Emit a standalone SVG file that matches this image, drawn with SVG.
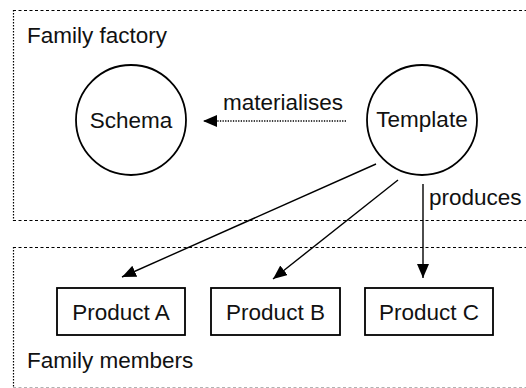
<svg xmlns="http://www.w3.org/2000/svg" width="526" height="388" viewBox="0 0 526 388">
  <style>
    text { font-family: "Liberation Sans", Arial, sans-serif; font-size: 22.5px; fill: #111; }
    .mid { text-anchor: middle; }
    .hdash { stroke: #000; stroke-width: 1.2; stroke-dasharray: 3 2.5; fill: none; }
    .vdash { stroke: #000; stroke-width: 1.2; stroke-dasharray: 1.5 1.5; fill: none; }
    .node { fill: #fff; stroke: #000; stroke-width: 1.8; }
    .edge { stroke: #000; stroke-width: 1.4; fill: none; }
    .dotted { stroke-dasharray: 1.3 1.3; }
  </style>
  <defs>
    <marker id="arrow" markerUnits="userSpaceOnUse" markerWidth="15" markerHeight="13" refX="14" refY="6" orient="auto">
      <path d="M0,0 L14,6 L0,12 z" fill="#000"/>
    </marker>
  </defs>

  <rect width="526" height="388" fill="#fff"/>

  <!-- Family factory container -->
  <g id="family-factory">
    <line class="hdash" x1="13" y1="10.5" x2="526" y2="10.5"/>
    <line class="hdash" x1="13" y1="220.5" x2="526" y2="220.5"/>
    <line class="vdash" x1="13.5" y1="10" x2="13.5" y2="221"/>
    <text x="27" y="43">Family factory</text>
  </g>

  <!-- Family members container -->
  <g id="family-members">
    <line class="hdash" x1="13" y1="247.5" x2="526" y2="247.5"/>
    <line class="hdash" x1="13" y1="387.5" x2="526" y2="387.5" stroke-opacity="0.3"/>
    <line class="vdash" x1="13.5" y1="247" x2="13.5" y2="388"/>
    <text x="27" y="368">Family members</text>
  </g>

  <g id="schema">
    <circle class="node" cx="131" cy="120" r="55"/>
    <text class="mid" x="131" y="128">Schema</text>
  </g>

  <g id="template">
    <circle class="node" cx="422" cy="120" r="55"/>
    <text class="mid" x="422" y="127">Template</text>
  </g>

  <g id="product-a">
    <rect class="node" x="57" y="288" width="128" height="47"/>
    <text class="mid" x="121" y="320">Product A</text>
  </g>

  <g id="product-b">
    <rect class="node" x="211" y="288" width="129" height="47"/>
    <text class="mid" x="275.5" y="320">Product B</text>
  </g>

  <g id="product-c">
    <rect class="node" x="365" y="288" width="128" height="47"/>
    <text class="mid" x="429" y="320">Product C</text>
  </g>

  <g id="connectors">
    <line class="edge dotted" x1="346" y1="121" x2="203" y2="121" marker-end="url(#arrow)"/>
    <text x="223" y="110">materialises</text>
    <line class="edge" x1="376" y1="164" x2="122" y2="277" marker-end="url(#arrow)"/>
    <line class="edge" x1="398" y1="180" x2="273" y2="279" marker-end="url(#arrow)"/>
    <line class="edge" x1="423" y1="184" x2="423" y2="278" marker-end="url(#arrow)"/>
    <text x="429" y="205">produces</text>
  </g>
</svg>
